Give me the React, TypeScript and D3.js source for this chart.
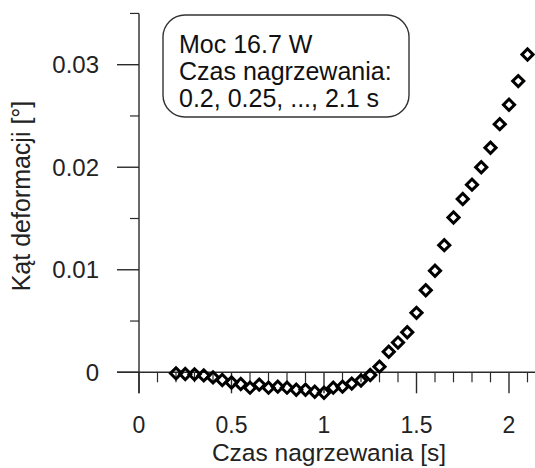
import React from "react";
import * as d3 from "d3";

const heatingTimes = [
  0.2, 0.25, 0.3, 0.35, 0.4, 0.45, 0.5, 0.55, 0.6, 0.65, 0.7, 0.75, 0.8, 0.85,
  0.9, 0.95, 1.0, 1.05, 1.1, 1.15, 1.2, 1.25, 1.3, 1.35, 1.4, 1.45, 1.5, 1.55,
  1.6, 1.65, 1.7, 1.75, 1.8, 1.85, 1.9, 1.95, 2.0, 2.05, 2.1,
];
const deformationAngles = [
  -0.0001, -0.00017, -0.0002, -0.0003, -0.0005, -0.00075, -0.001, -0.00114,
  -0.0015, -0.0012, -0.0015, -0.0014, -0.0015, -0.0017, -0.0017, -0.0019,
  -0.002, -0.0015, -0.0014, -0.0011, -0.0008, -0.00026, 0.00055, 0.002,
  0.0029, 0.0039, 0.0058, 0.008, 0.0099, 0.0124, 0.0151, 0.0169, 0.0183,
  0.02, 0.0219, 0.0242, 0.0261, 0.0284, 0.031,
];
const xMajorTicks = [0, 0.5, 1, 1.5, 2];
const xMinorTicks = [0.1, 0.2, 0.3, 0.4, 0.6, 0.7, 0.8, 0.9, 1.1, 1.2, 1.3, 1.4, 1.6, 1.7, 1.8, 1.9, 2.1];
const xTickLabels = ["0", "0.5", "1", "1.5", "2"];
const yMajorTicks = [0, 0.01, 0.02, 0.03];
const yMinorTicks = [0.005, 0.015, 0.025, 0.035];
const yTickLabels = ["0", "0.01", "0.02", "0.03"];
const xTitle = "Czas nagrzewania [s]";
const yTitle = "Kąt deformacji [°]";
const boxLines = ["Moc 16.7 W", "Czas nagrzewania:", "0.2, 0.25, ..., 2.1 s"];

const FONT = "'Liberation Sans', Arial, Helvetica, sans-serif";

export default function App() {
  const W = 535;
  const H = 468;
  const x = d3.scaleLinear().domain([0, 2]).range([139, 509]);
  const y = d3.scaleLinear().domain([0, 0.03]).range([372.3, 64.7]);
  const axisColor = "#2a2a2a";
  const x0 = x(0);
  const y0 = y(0);
  const diamond = d3.symbol().type(d3.symbolSquare).size(62)();

  return (
    <svg
      width={W}
      height={H}
      viewBox={`0 0 ${W} ${H}`}
      style={{ position: "absolute", left: 0, top: 0, background: "#fff" }}
      fontFamily={FONT}
    >
      <rect x={0} y={0} width={W} height={H} fill="#fff" />
      {/* Y axis */}
      <line x1={x0} x2={x0} y1={y(0.035)} y2={y0 + 21} stroke={axisColor} strokeWidth={1.4} />
      {yMajorTicks.map((t) => (
        <line key={"ym" + t} x1={x0 - 22} x2={x0} y1={y(t)} y2={y(t)} stroke={axisColor} strokeWidth={1.4} />
      ))}
      {yMinorTicks.map((t) => (
        <line key={"yn" + t} x1={x0 - 9} x2={x0} y1={y(t)} y2={y(t)} stroke={axisColor} strokeWidth={1.2} />
      ))}
      {yMajorTicks.map((t, i) => (
        <text key={"yl" + t} x={99} y={y(t)} dy="0.36em" textAnchor="end" fontSize={24} fill="#222">
          {yTickLabels[i]}
        </text>
      ))}
      {/* X axis */}
      <line x1={x0 - 22} x2={W} y1={y0} y2={y0} stroke={axisColor} strokeWidth={1.4} />
      {xMajorTicks.map((t) => (
        <line key={"xm" + t} x1={x(t)} x2={x(t)} y1={y0} y2={y0 + 21} stroke={axisColor} strokeWidth={1.4} />
      ))}
      {xMinorTicks.map((t) => (
        <line key={"xn" + t} x1={x(t)} x2={x(t)} y1={y0} y2={y0 + 10} stroke={axisColor} strokeWidth={1.2} />
      ))}
      {xMajorTicks.map((t, i) => (
        <text key={"xl" + t} x={x(t)} y={433} textAnchor="middle" fontSize={23} fill="#222">
          {xTickLabels[i]}
        </text>
      ))}
      <text x={329} y={461} textAnchor="middle" fontSize={24.5} fill="#222">
        {xTitle}
      </text>
      <text
        transform={`translate(30, 196) rotate(-90)`}
        textAnchor="middle"
        fontSize={25}
        fill="#222"
      >
        {yTitle}
      </text>
      {/* Annotation box */}
      <rect x={163} y={15} width={246} height={102} rx={22} ry={22} fill="#fff" stroke="#333" strokeWidth={1.4} />
      {boxLines.map((s, i) => (
        <text key={"b" + i} x={179} y={53 + i * 27} fontSize={25} fill="#111">
          {s}
        </text>
      ))}
      {/* Markers */}
      {heatingTimes.map((t, i) => (
        <path
          key={"p" + i}
          d={diamond as string}
          transform={`translate(${x(t)}, ${y(deformationAngles[i])}) rotate(45)`}
          fill="none"
          stroke="#000"
          strokeWidth={3}
        />
      ))}
    </svg>
  );
}
